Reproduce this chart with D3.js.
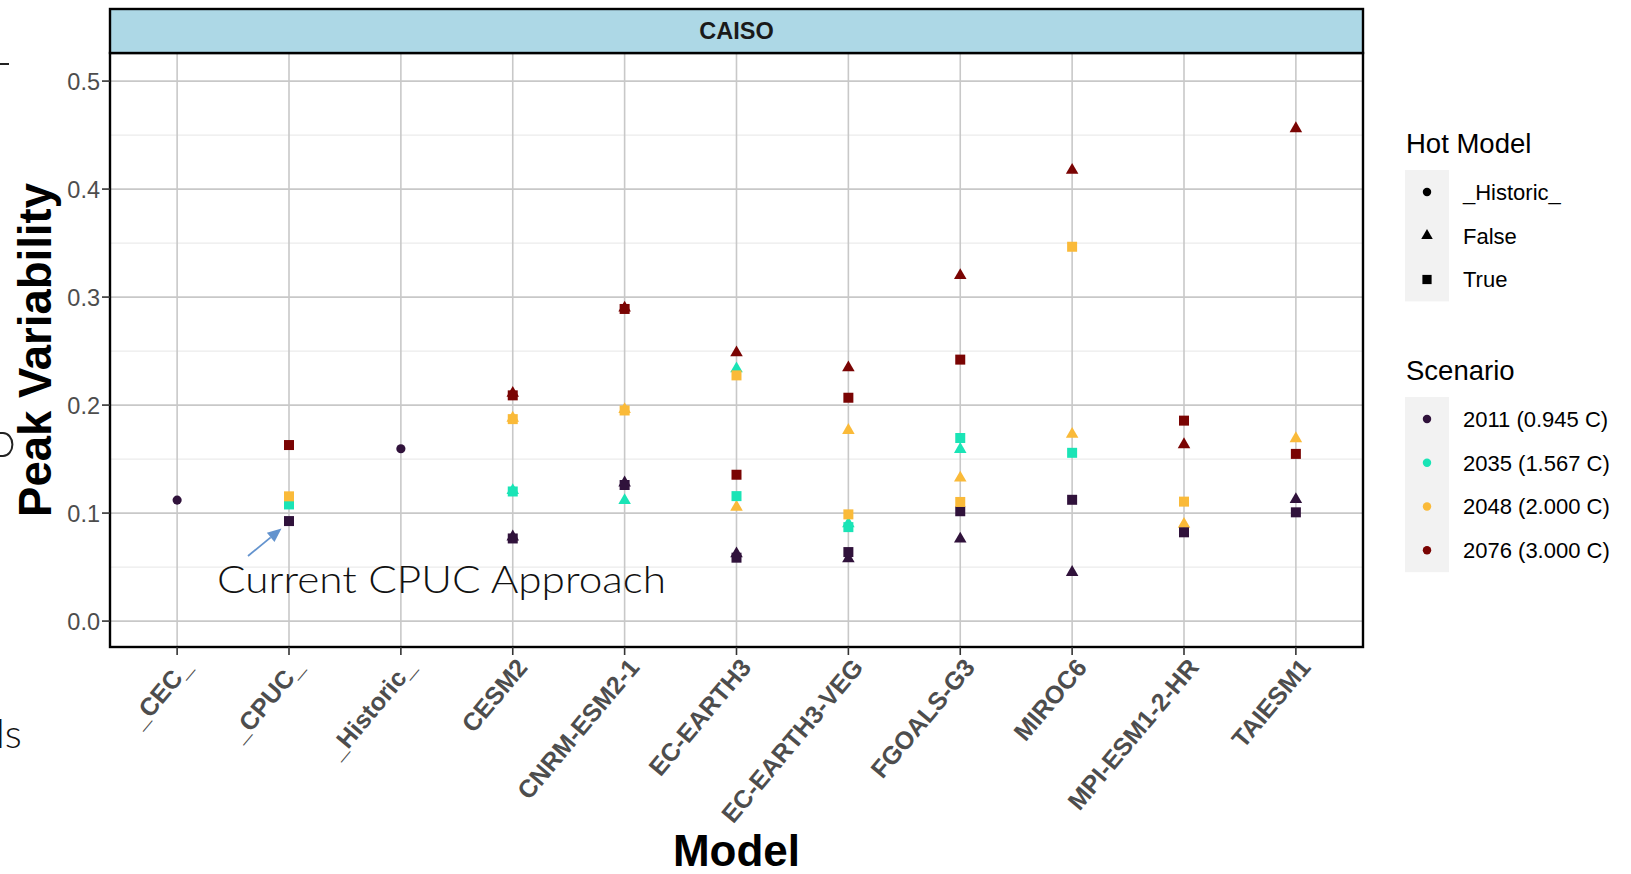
<!DOCTYPE html>
<html>
<head>
<meta charset="utf-8">
<script src="https://cdn.jsdelivr.net/npm/d3@7"></script>
<style>
  body { margin: 0; background: #fff; }
  svg { display: block; }
</style>
</head>
<body>
<script>
// categories on the x axis
var models = ["_CEC_", "_CPUC_", "_Historic_", "CESM2", "CNRM-ESM2-1", "EC-EARTH3",
  "EC-EARTH3-VEG", "FGOALS-G3", "MIROC6", "MPI-ESM1-2-HR", "TAIESM1"];

var scenarios = ["2011 (0.945 C)", "2035 (1.567 C)", "2048 (2.000 C)", "2076 (3.000 C)"];
var scenarioColors = ["#30123B", "#1AE4B6", "#FABA39", "#7A0403"];
var hotLevels = ["_Historic_", "False", "True"];

var yTicks = [0.0, 0.1, 0.2, 0.3, 0.4, 0.5];
var yMinor = [0.05, 0.15, 0.25, 0.35, 0.45];

// peak variability per model (null = no point), one array per hot model / scenario
var historic2011 = [0.112, null, 0.1596, null, null, null, null, null, null, null, null];

var false2011 = [null, null, null, 0.078, 0.128, 0.0624, 0.0578, 0.076, 0.0452, null, 0.1127];
var false2035 = [null, null, null, 0.121, 0.1117, 0.2337, 0.0902, 0.159, null, null, null];
var false2048 = [null, null, null, 0.188, 0.196, 0.1056, 0.1766, 0.1325, 0.173, 0.0897, 0.169];
var false2076 = [null, null, null, 0.211, 0.290, 0.2485, 0.2346, 0.320, 0.4175, 0.1634, 0.456];

var true2011 = [null, 0.0926, null, 0.0765, 0.126, 0.0587, 0.0639, 0.1017, 0.1123, 0.0822, 0.1007];
var true2035 = [null, 0.108, null, 0.120, null, 0.1157, 0.087, 0.1695, 0.1558, null, null];
var true2048 = [null, 0.1155, null, 0.187, 0.195, 0.2275, 0.0988, 0.1103, 0.3466, 0.1106, null];
var true2076 = [null, 0.163, null, 0.209, 0.289, 0.1355, 0.2068, 0.2421, null, 0.1856, 0.1548];

var series = [
  { hot: "_Historic_", scen: 0, values: historic2011 },
  { hot: "False", scen: 0, values: false2011 },
  { hot: "False", scen: 1, values: false2035 },
  { hot: "False", scen: 2, values: false2048 },
  { hot: "False", scen: 3, values: false2076 },
  { hot: "True", scen: 0, values: true2011 },
  { hot: "True", scen: 1, values: true2035 },
  { hot: "True", scen: 2, values: true2048 },
  { hot: "True", scen: 3, values: true2076 }
];

var width = 1631, height = 874;
var panel = { left: 110, right: 1363, top: 53, bottom: 647 };

var svg = d3.select("body").append("svg")
  .attr("width", width)
  .attr("height", height)
  .style("font-family", "'Liberation Sans', Arial, sans-serif");

var x = d3.scalePoint()
  .domain(models)
  .range([panel.left, panel.right])
  .padding(0.6);

var y = d3.scaleLinear()
  .domain([-0.024, 0.526])
  .range([panel.bottom, panel.top]);

var shapeType = {
  "_Historic_": d3.symbolCircle,
  "False": d3.symbolTriangle,
  "True": d3.symbolSquare
};
var shapeSize = { "_Historic_": 66, "False": 68, "True": 100 };
function symbolPath(hot, k) {
  return d3.symbol().type(shapeType[hot]).size(shapeSize[hot] * (k || 1))();
}

// grid
var grid = svg.append("g");
grid.selectAll(".minor").data(yMinor).enter().append("line")
  .attr("x1", panel.left).attr("x2", panel.right)
  .attr("y1", function(d) { return y(d); })
  .attr("y2", function(d) { return y(d); })
  .attr("stroke", "#EBEBEB").attr("stroke-width", 1.2);
grid.selectAll(".majorY").data(yTicks).enter().append("line")
  .attr("x1", panel.left).attr("x2", panel.right)
  .attr("y1", function(d) { return y(d); })
  .attr("y2", function(d) { return y(d); })
  .attr("stroke", "#C8C8C8").attr("stroke-width", 1.6);
grid.selectAll(".majorX").data(models).enter().append("line")
  .attr("y1", panel.top).attr("y2", panel.bottom)
  .attr("x1", function(d) { return x(d); })
  .attr("x2", function(d) { return x(d); })
  .attr("stroke", "#C8C8C8").attr("stroke-width", 1.6);

// points: circles, then triangles, then squares
var pts = [];
series.forEach(function(s) {
  s.values.forEach(function(v, i) {
    if (v !== null) pts.push({ model: models[i], hot: s.hot, scen: s.scen, value: v });
  });
});

svg.append("g").selectAll("path")
  .data(pts).enter().append("path")
  .attr("d", function(d) { return symbolPath(d.hot); })
  .attr("transform", function(d) { return "translate(" + x(d.model) + "," + y(d.value) + ")"; })
  .attr("fill", function(d) { return scenarioColors[d.scen]; });

// panel border
svg.append("rect")
  .attr("x", panel.left).attr("y", panel.top)
  .attr("width", panel.right - panel.left).attr("height", panel.bottom - panel.top)
  .attr("fill", "none").attr("stroke", "#000").attr("stroke-width", 2.4);

// facet strip
svg.append("rect")
  .attr("x", panel.left).attr("y", 9)
  .attr("width", panel.right - panel.left).attr("height", panel.top - 9)
  .attr("fill", "#ADD8E6").attr("stroke", "#000").attr("stroke-width", 2.4);
svg.append("text")
  .attr("x", (panel.left + panel.right) / 2).attr("y", 31)
  .attr("dy", "0.36em")
  .attr("text-anchor", "middle")
  .attr("font-size", 23.5).attr("font-weight", "bold").attr("fill", "#1A1A1A")
  .text("CAISO");

// y axis
var yAxis = svg.append("g");
yAxis.selectAll("line").data(yTicks).enter().append("line")
  .attr("x1", panel.left - 8).attr("x2", panel.left)
  .attr("y1", function(d) { return y(d); })
  .attr("y2", function(d) { return y(d); })
  .attr("stroke", "#333").attr("stroke-width", 1.6);
yAxis.selectAll("text").data(yTicks).enter().append("text")
  .attr("x", panel.left - 10)
  .attr("y", function(d) { return y(d); })
  .attr("dy", "0.36em")
  .attr("text-anchor", "end")
  .attr("font-size", 23.5).attr("fill", "#4D4D4D")
  .text(function(d) { return d3.format(".1f")(d); });

// x axis
var xAxis = svg.append("g");
xAxis.selectAll("line").data(models).enter().append("line")
  .attr("x1", function(d) { return x(d); })
  .attr("x2", function(d) { return x(d); })
  .attr("y1", panel.bottom).attr("y2", panel.bottom + 8)
  .attr("stroke", "#333").attr("stroke-width", 1.6);
xAxis.selectAll("text").data(models).enter().append("text")
  .attr("transform", function(d) {
    return "translate(" + (x(d) + 16) + "," + (panel.bottom + 21) + ") rotate(-50)";
  })
  .attr("text-anchor", "end")
  .attr("font-size", 25).attr("font-weight", "bold").attr("fill", "#4D4D4D")
  .text(function(d) { return d; });

// axis titles
svg.append("text")
  .attr("x", (panel.left + panel.right) / 2).attr("y", 866)
  .attr("text-anchor", "middle")
  .attr("font-size", 44).attr("font-weight", "bold").attr("fill", "#000")
  .text("Model");
svg.append("text")
  .attr("transform", "translate(51," + ((panel.top + panel.bottom) / 2) + ") rotate(-90)")
  .attr("text-anchor", "middle")
  .attr("font-size", 45.5).attr("font-weight", "bold").attr("fill", "#000")
  .text("Peak Variability");

// annotation
svg.append("text")
  .attr("x", 217).attr("y", 593)
  .attr("font-family", "Lato, 'Open Sans', sans-serif")
  .attr("font-weight", 300)
  .attr("font-size", 37)
  .attr("textLength", 449).attr("lengthAdjust", "spacingAndGlyphs")
  .attr("fill", "#111")
  .text("Current CPUC Approach");

var a0 = [248, 556], a1 = [281.5, 528.5];
var dx = a1[0] - a0[0], dy = a1[1] - a0[1], len = Math.sqrt(dx * dx + dy * dy);
var ux = dx / len, uy = dy / len;
var hl = 14, hw = 6;
var base = [a1[0] - ux * hl, a1[1] - uy * hl];
svg.append("line")
  .attr("x1", a0[0]).attr("y1", a0[1])
  .attr("x2", base[0]).attr("y2", base[1])
  .attr("stroke", "#6393CE").attr("stroke-width", 1.8);
svg.append("path")
  .attr("d", "M" + a1[0] + "," + a1[1] +
    "L" + (base[0] - uy * hw) + "," + (base[1] + ux * hw) +
    "L" + (base[0] + uy * hw) + "," + (base[1] - ux * hw) + "Z")
  .attr("fill", "#6393CE");

// legends
var lx = 1405;
function legendBlock(title, titleY, keyTop, items, drawKey) {
  var g = svg.append("g");
  g.append("text")
    .attr("x", lx + 1).attr("y", titleY)
    .attr("font-size", 27.5).attr("fill", "#000")
    .text(title);
  var step = 43.8;
  g.append("rect")
    .attr("x", lx).attr("y", keyTop)
    .attr("width", 44).attr("height", step * items.length)
    .attr("fill", "#F2F2F2");
  items.forEach(function(label, i) {
    var cy = keyTop + step * (i + 0.5);
    drawKey(g, i, lx + 22, cy);
    g.append("text")
      .attr("x", lx + 58).attr("y", cy)
      .attr("dy", "0.36em")
      .attr("font-size", 22).attr("fill", "#000")
      .text(label);
  });
}

legendBlock("Hot Model", 153, 170, hotLevels, function(g, i, cx, cy) {
  g.append("path")
    .attr("d", symbolPath(hotLevels[i], 0.85))
    .attr("transform", "translate(" + cx + "," + cy + ")")
    .attr("fill", "#000");
});
legendBlock("Scenario", 380, 397, scenarios, function(g, i, cx, cy) {
  g.append("path")
    .attr("d", symbolPath("_Historic_", 0.85))
    .attr("transform", "translate(" + cx + "," + cy + ")")
    .attr("fill", scenarioColors[i]);
});

// bits of the slide behind the chart, cut at the left edge
svg.append("line")
  .attr("x1", 0).attr("x2", 9).attr("y1", 64).attr("y2", 64)
  .attr("stroke", "#222").attr("stroke-width", 2);
svg.append("path")
  .attr("d", "M0,433 L3,433 A9,11 0 0 1 3,456 L0,456")
  .attr("fill", "none").attr("stroke", "#222").attr("stroke-width", 2);
svg.append("text")
  .attr("x", -4).attr("y", 748)
  .attr("font-family", "Lato, 'Open Sans', sans-serif")
  .attr("font-weight", 300)
  .attr("font-size", 40).attr("fill", "#111")
  .text("ls");
</script>
</body>
</html>
